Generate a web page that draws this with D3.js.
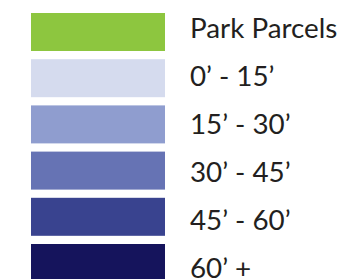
<!DOCTYPE html>
<html>
<head>
<meta charset="utf-8">
<script src="https://cdn.jsdelivr.net/npm/d3@7"></script>
<style>
  body { margin: 0; background: #fff; }
  text { font-family: Lato, "Open Sans", sans-serif; fill: #231f20; }
</style>
</head>
<body>
<div class="legend"></div>
<script>
var labels = ["Park Parcels", "0\u2019 - 15\u2019", "15\u2019 - 30\u2019", "30\u2019 - 45\u2019", "45\u2019 - 60\u2019", "60\u2019 +"];
var colors = ["#8dc63f", "#d5dbee", "#8f9dcf", "#6673b4", "#39438f", "#15145c"];

var width = 350, height = 279;

var svg = d3
  .select(".legend")
  .append("svg")
  .attr("width", width)
  .attr("height", height);

// swatches step a bit tighter than the text rows
var ySwatch = d3.scalePoint().domain(labels).range([13, 244]);
var yText = d3.scalePoint().domain(labels).range([38, 278]);

var rows = svg
  .selectAll(".row")
  .data(labels)
  .enter()
  .append("g")
  .attr("class", "row");

rows
  .append("rect")
  .attr("x", 31)
  .attr("y", function (d) { return ySwatch(d); })
  .attr("width", 134)
  .attr("height", 38)
  .style("fill", function (d, i) { return colors[i]; });

rows
  .append("text")
  .attr("x", 190)
  .attr("y", function (d) { return yText(d); })
  .style("font-size", "27.8px")
  .text(function (d) { return d; });
</script>
</body>
</html>
